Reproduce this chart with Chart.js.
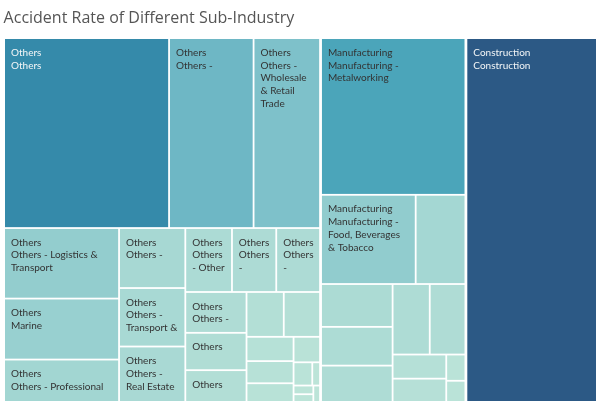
<!DOCTYPE html>
<html><head><meta charset="utf-8">
<script src="https://cdn.jsdelivr.net/npm/chart.js@4.4.1/dist/chart.umd.min.js"></script>
<style>html,body{margin:0;padding:0;background:#fff;}#wrap{width:600px;height:405px;}</style>
</head><body><div id="wrap"><canvas id="c" width="600" height="405"></canvas></div>
<script>
// ---------------- data ----------------
const chartTitle = 'Accident Rate of Different Sub-Industry';
const industries = ['Others', 'Manufacturing', 'Construction'];

const othersValues = [311.5, 159.1, 126.1, 80.5, 69.6, 48.9, 39.3, 38.3, 36.6, 29.5, 28.0, 28.0,
  24.7, 22.6, 19.5, 16.5, 16.3, 11.3, 10.3, 8.9, 6.8, 4.3, 1.9, 1.7, 1.6, 1.2];
const othersLabels = [
  'Others\nOthers', 'Others\nOthers -', 'Others\nOthers -\nWholesale\n& Retail\nTrade',
  'Others\nOthers - Logistics &\nTransport', 'Others\nMarine', 'Others\nOthers - Professional',
  'Others\nOthers -', 'Others\nOthers -\nTransport &', 'Others\nOthers -\nReal Estate',
  'Others\nOthers\n- Other', 'Others\nOthers\n-', 'Others\nOthers\n-',
  'Others\nOthers -', 'Others', 'Others', '', '', '', '', '', '', '', '', '', '', ''];

const manufacturingValues = [225.9, 83.9, 44.3, 30.5, 27.6, 26.2, 25.9, 25.2, 12.8, 12.6, 5.1, 4.2];
const manufacturingLabels = [
  'Manufacturing\nManufacturing -\nMetalworking',
  'Manufacturing\nManufacturing -\nFood, Beverages\n& Tobacco',
  '', '', '', '', '', '', '', '', '', ''];

const constructionValues = [474.2];
const constructionLabels = ['Construction\nConstruction'];

// --------------- layout structure (strip sizes of the treemap) ---------------
const stripPlan = {
  top: [1, 2],
  Others: [3, 3, 3, 3, 3, 2, 3, 1, 2, 2, 1],
  Manufacturing: [1, 2, 3, 2, 2, 1, 1],
  Construction: [1]
};

const groups = [
  { name: industries[0], values: othersValues, labels: othersLabels },
  { name: industries[1], values: manufacturingValues, labels: manufacturingLabels },
  { name: industries[2], values: constructionValues, labels: constructionLabels }
];

const blueTeal = ['#bce4d8','#aedcd5','#a1d5d2','#95cecf','#89c8cc','#7ec1ca','#72bac6','#66b2c2',
  '#59acbe','#4ba5ba','#419eb6','#3b96b2','#358ead','#3586a7','#347ea1','#32779b','#316f96',
  '#2f6790','#2d608a','#2c5985'];

function hexRgb(h) { return [1, 3, 5].map(i => parseInt(h.substr(i, 2), 16)); }
const allValues = groups.flatMap(g => g.values);
const vMin = Math.min(...allValues), vMax = Math.max(...allValues);
function colorFor(v) {
  const t = (v - vMin) / (vMax - vMin);
  const p = t * (blueTeal.length - 1);
  const i = Math.min(Math.floor(p), blueTeal.length - 2), f = p - i;
  const a = hexRgb(blueTeal[i]), b = hexRgb(blueTeal[i + 1]);
  return a.map((c, k) => Math.round(c + (b[k] - c) * f));
}

function stripLayout(values, strips, rect, pxW, pxH) {
  const out = [];
  let { x, y, w, h } = rect;
  let rem = values.reduce((a, b) => a + b, 0);
  let i = 0;
  for (const k of strips) {
    const vals = values.slice(i, i + k);
    const s = vals.reduce((a, b) => a + b, 0);
    if (w * pxW >= h * pxH) {
      const cw = w * s / rem; let cy = y;
      vals.forEach(v => { const ch = h * v / s; out.push({ x, y: cy, w: cw, h: ch }); cy += ch; });
      x += cw; w -= cw;
    } else {
      const rh = h * s / rem; let cx = x;
      vals.forEach(v => { const cw2 = w * v / s; out.push({ x: cx, y, w: cw2, h: rh }); cx += cw2; });
      y += rh; h -= rh;
    }
    rem -= s; i += k;
  }
  return out;
}

const treemapPlugin = {
  id: 'treemapCells',
  afterDatasetsDraw(chart) {
    const xs = chart.scales.x, ys = chart.scales.y, ctx = chart.ctx;
    const pxW = Math.abs(xs.getPixelForValue(1) - xs.getPixelForValue(0));
    const pxH = Math.abs(ys.getPixelForValue(1) - ys.getPixelForValue(0));
    const totals = groups.map(g => g.values.reduce((a, b) => a + b, 0));
    const groupRects = stripLayout(totals, stripPlan.top, { x: 0, y: 0, w: 1, h: 1 }, pxW, pxH);
    ctx.save();
    groups.forEach((g, gi) => {
      const gr = groupRects[gi];
      const cells = stripLayout(g.values, stripPlan[g.name], gr, pxW, pxH);
      const gx0 = xs.getPixelForValue(gr.x) + 0.5, gx1 = xs.getPixelForValue(gr.x + gr.w) - 0.5;
      const gy0 = ys.getPixelForValue(gr.y) + 0.5, gy1 = ys.getPixelForValue(gr.y + gr.h) - 0.5;
      cells.forEach((c, ci) => {
        let x0 = Math.max(xs.getPixelForValue(c.x), gx0) + 0.9;
        let x1 = Math.min(xs.getPixelForValue(c.x + c.w), gx1) - 0.9;
        let y0 = Math.max(ys.getPixelForValue(c.y), gy0) + 0.9;
        let y1 = Math.min(ys.getPixelForValue(c.y + c.h), gy1) - 0.9;
        const rgb = colorFor(g.values[ci]);
        ctx.fillStyle = `rgb(${rgb[0]},${rgb[1]},${rgb[2]})`;
        ctx.fillRect(x0, y0, Math.max(0, x1 - x0), Math.max(0, y1 - y0));
        const label = g.labels[ci];
        if (label) {
          const lum = 0.299 * rgb[0] + 0.587 * rgb[1] + 0.114 * rgb[2];
          ctx.fillStyle = lum < 128 ? '#f4f6f7' : '#333333';
          ctx.font = '10px Lato';
          ctx.textBaseline = 'alphabetic';
          ctx.textAlign = 'left';
          label.split('\n').forEach((line, li) => {
            ctx.fillText(line, x0 + 6, y0 + 16.7 + li * 12.8);
          });
        }
      });
    });
    ctx.restore();
  }
};

new Chart(document.getElementById('c'), {
  type: 'scatter',
  data: { datasets: [{ data: [], pointRadius: 0 }] },
  options: {
    responsive: false,
    animation: false,
    layout: { padding: { left: 3.6, right: 2.6, top: 0, bottom: 2.6 } },
    scales: {
      x: { type: 'linear', min: 0, max: 1, display: false },
      y: { type: 'linear', min: 0, max: 1, reverse: true, display: false }
    },
    plugins: {
      legend: { display: false },
      tooltip: { enabled: false },
      title: {
        display: true, text: chartTitle, align: 'start', color: '#555555',
        font: { family: 'Open Sans', size: 16, weight: 'normal' },
        padding: { top: 8.4, bottom: 10 }
      }
    }
  },
  plugins: [treemapPlugin]
});
</script></body></html>
